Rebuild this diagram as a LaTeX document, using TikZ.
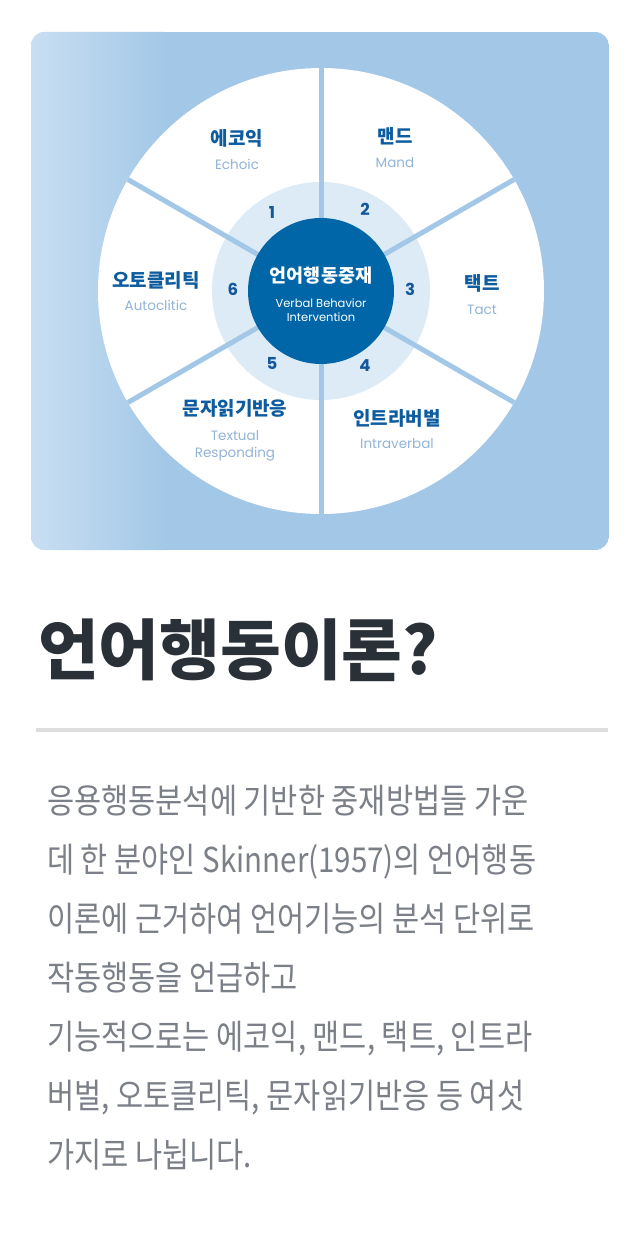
\documentclass[tikz,border=0pt]{standalone}
\usepackage{fontspec}
\usetikzlibrary{calc}
\newfontfamily\kr{Noto Sans CJK KR}
\newfontfamily\titlefont{Noto Sans CJK KR}
\newfontfamily\bodyfont{Noto Sans CJK KR}[FakeStretch=0.86]
\newfontfamily\pop{Poppins}
\definecolor{panel}{HTML}{A3C8E7}
\definecolor{panelL}{HTML}{C9DEF2}
\definecolor{ring}{HTML}{DDEBF7}
\definecolor{darkc}{HTML}{0066A8}
\definecolor{krlab}{HTML}{0D5C9F}
\definecolor{enlab}{HTML}{92B4D6}
\definecolor{numc}{HTML}{13589A}
\definecolor{titlec}{HTML}{2A3038}
\definecolor{rulec}{HTML}{DDDDDD}
\definecolor{bodyc}{HTML}{7A7F88}
\tikzset{
  krl/.style={inner sep=0pt, text=krlab, font=\kr\bfseries\fontsize{19}{21}\selectfont, text height=0.82em, text depth=0.06em},
  enl/.style={inner sep=0pt, text=enlab, font=\pop\fontsize{13.5}{15}\selectfont, text height=0.72em, text depth=0.02em},
  numl/.style={inner sep=0pt, text=numc, font=\pop\bfseries\fontsize{16.5}{18}\selectfont, text height=0.7em, text depth=0em},
  divider/.style={line width=5pt, draw=panel},
  bodyl/.style={inner sep=0pt, anchor=base west, text=bodyc, font=\bodyfont\fontsize{34.3}{40}\selectfont}
}
\begin{document}
\begin{tikzpicture}[x=1pt,y=-1pt]
\useasboundingbox (0,0) rectangle (643,1255);
\fill[white] (0,0) rectangle (643,1255);
% panel
\begin{scope}
\clip[rounded corners=14pt] (31,32) rectangle (609,550);
\fill[panel] (31,32) rectangle (609,550);
\shade[left color=panelL, right color=panel] (31,32) rectangle (165,550);
\end{scope}
% wheel
\coordinate (c) at (321,291);
\fill[white] (c) circle[radius=223pt];
\fill[ring] (c) circle[radius=109pt];
\foreach \a [count=\i] in {90,30,-30,-90,-150,150} {
  \coordinate (e\i) at ($(c)+(\a:223pt)$);
  \draw[divider] (c) -- (e\i);
}
\fill[darkc] (c) circle[radius=73pt];
% center text
\node[inner sep=0pt, text=white, font=\kr\bfseries\fontsize{18.5}{20}\selectfont, text height=0.82em, text depth=0.06em] (ctitle) at (321,279) {언어행동중재};
\node[inner sep=0pt, text=white, font=\pop\fontsize{11.5}{13}\selectfont, text height=0.72em, text depth=0.02em] (cen1) at (321,304) {Verbal Behavior};
\node[inner sep=0pt, text=white, font=\pop\fontsize{11.5}{13}\selectfont, text height=0.72em, text depth=0.02em] (cen2) at (321,318) {Intervention};
% numbers
\node[numl] (n1) at (272,215) {1};
\node[numl] (n2) at (365,212) {2};
\node[numl] (n3) at (410,292) {3};
\node[numl] (n4) at (365,368) {4};
\node[numl] (n5) at (272,366) {5};
\node[numl] (n6) at (233,292) {6};
% sector labels
\node[krl] (k1) at (237,142) {에코익};
\node[enl] (e1l) at (237,166) {Echoic};
\node[krl] (k2) at (395,140) {맨드};
\node[enl] (e2l) at (395,164) {Mand};
\node[krl] (k3) at (482,287) {택트};
\node[enl] (e3l) at (482,311) {Tact};
\node[krl] (k4) at (397,422) {인트라버벌};
\node[enl] (e4l) at (397,445) {Intraverbal};
\node[krl] (k5) at (235,412) {문자읽기반응};
\node[enl] (e5l) at (235,437) {Textual};
\node[enl] (e5m) at (235,454) {Responding};
\node[krl] (k6) at (156,284) {오토클리틱};
\node[enl] (e6l) at (156,307) {Autoclitic};
% title
\node[inner sep=0pt, anchor=base west, text=titlec, font=\titlefont\bfseries\fontsize{66}{70}\selectfont] (title) at (38,674) {언어행동이론?};
\coordinate (r1) at (36,730);
\coordinate (r2) at (608,730);
\draw[line width=4pt, draw=rulec] (r1) -- (r2);
% body
\node[bodyl] (b1) at (47,813) {응용행동분석에 기반한 중재방법들 가운};
\node[bodyl] (b2) at (47,872) {데 한 분야인 Skinner(1957)의 언어행동};
\node[bodyl] (b3) at (47,931) {이론에 근거하여 언어기능의 분석 단위로};
\node[bodyl] (b4) at (47,990) {작동행동을 언급하고};
\node[bodyl] (b5) at (47,1049) {기능적으로는 에코익, 맨드, 택트, 인트라};
\node[bodyl] (b6) at (47,1108) {버벌, 오토클리틱, 문자읽기반응 등 여섯};
\node[bodyl] (b7) at (47,1167) {가지로 나뉩니다.};
\end{tikzpicture}
\end{document}
